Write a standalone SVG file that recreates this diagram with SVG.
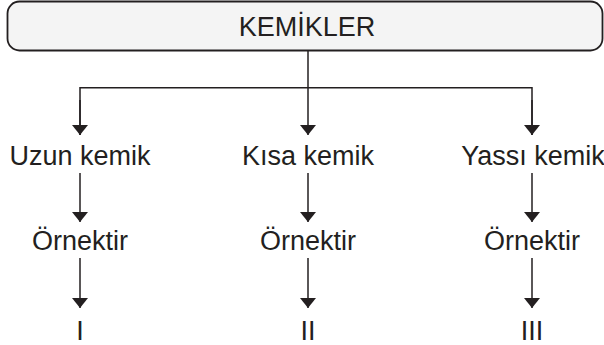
<svg xmlns="http://www.w3.org/2000/svg" width="604" height="345" viewBox="0 0 604 345">
  <defs>
    <marker id="arr" markerUnits="userSpaceOnUse" markerWidth="10" markerHeight="16" refX="10" refY="8" orient="auto">
      <path d="M0,0 L10,8 L0,16 z" fill="#231f20"/>
    </marker>
    <style>
      .t { font-family: "Liberation Sans", Arial, sans-serif; font-size: 27px; fill: #231f20; text-anchor: middle; }
      .c { stroke: #231f20; stroke-width: 1.5; fill: none; }
      .a { marker-end: url(#arr); }
    </style>
  </defs>
  <rect width="604" height="345" fill="#ffffff"/>
  <g id="root">
    <rect x="7.5" y="1.5" width="595" height="49" rx="12" ry="12" fill="#f4f4f4" stroke="#231f20" stroke-width="1.8"/>
    <text class="t" x="307" y="36">KEMİKLER</text>
  </g>
  <g id="uzun"><text class="t" x="80" y="165">Uzun kemik</text></g>
  <g id="kisa"><text class="t" x="308" y="165">Kısa kemik</text></g>
  <g id="yassi"><text class="t" x="533" y="165">Yassı kemik</text></g>
  <g id="ornek1"><text class="t" x="80" y="250">Örnektir</text></g>
  <g id="ornek2"><text class="t" x="308" y="250">Örnektir</text></g>
  <g id="ornek3"><text class="t" x="532" y="250">Örnektir</text></g>
  <g id="n1"><text class="t" x="80" y="340">I</text></g>
  <g id="n2"><text class="t" x="308" y="340">II</text></g>
  <g id="n3"><text class="t" x="532" y="340">III</text></g>
  <g id="connectors">
    <path class="c" d="M80,135 V87.7 H532 V135"/>
    <path class="c a" d="M80,100 V135"/>
    <path class="c a" d="M308,50.5 V135"/>
    <path class="c a" d="M532,100 V135"/>
    <path class="c a" d="M80,173 V222"/>
    <path class="c a" d="M308,173 V222"/>
    <path class="c a" d="M532,173 V222"/>
    <path class="c a" d="M80,258 V308"/>
    <path class="c a" d="M308,258 V308"/>
    <path class="c a" d="M532,258 V308"/>
  </g>
</svg>
